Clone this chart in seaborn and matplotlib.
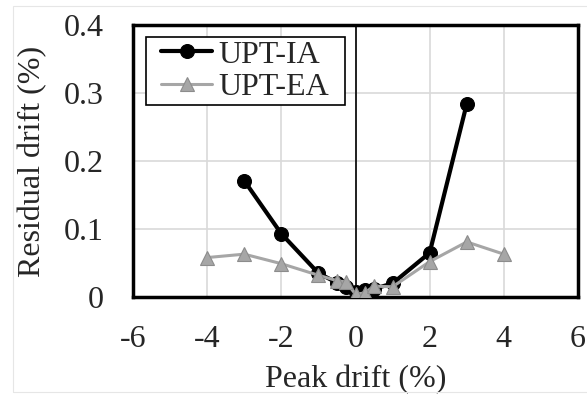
import numpy as np
import pandas as pd
import matplotlib
matplotlib.use("Agg")
import matplotlib.pyplot as plt
import seaborn as sns

# Data
ia_x = [-3, -2, -1, -0.5, -0.25, 0, 0.25, 0.5, 1, 2, 3]
ia_y = [0.171, 0.093, 0.035, 0.021, 0.015, 0.008, 0.010, 0.012, 0.020, 0.065, 0.284]
ea_x = [-4, -3, -2, -1, -0.5, -0.25, 0, 0.25, 0.5, 1, 2, 3, 4]
ea_y = [0.058, 0.063, 0.049, 0.032, 0.024, 0.022, 0.004, 0.006, 0.016, 0.015, 0.052, 0.081, 0.063]
series_names = ["UPT-IA", "UPT-EA"]
x_ticks = [-6, -4, -2, 0, 2, 4, 6]
y_ticks = [0, 0.1, 0.2, 0.3, 0.4]
y_tick_labels = ["0", "0.1", "0.2", "0.3", "0.4"]

df = pd.DataFrame({
    "x": ia_x + ea_x,
    "y": ia_y + ea_y,
    "series": [series_names[0]] * len(ia_x) + [series_names[1]] * len(ea_x),
})

sns.set_theme(style="white")
plt.rcParams["font.family"] = ["Liberation Serif", "DejaVu Serif"]

FS = 23
LFS = 23

W, H = 587, 396
fig = plt.figure(figsize=(W / 100, H / 100), dpi=100)
ax = fig.add_axes([133 / W, 1 - 297 / H, (578 - 133) / W, (297 - 25) / H])

# outer faint border
fig.patches.append(plt.Rectangle((13 / W, 4 / H), 1, 1 - 10 / H,
                                 transform=fig.transFigure, fill=False,
                                 edgecolor="#e6e6e6", linewidth=0.8))

ax.grid(True, color="#d9d9d9", linewidth=1.2, zorder=0)
ax.set_axisbelow(True)
ax.axvline(0, color="black", linewidth=1.2, zorder=1)

palette = {"UPT-IA": "black", "UPT-EA": "#a6a6a6"}
markers = {"UPT-IA": "o", "UPT-EA": "^"}
for name in series_names:
    sub = df[df["series"] == name]
    sns.lineplot(data=sub, x="x", y="y", ax=ax, color=palette[name],
                 marker=markers[name], markersize=10,
                 markeredgecolor="black" if name == "UPT-IA" else "#8c8c8c",
                 markeredgewidth=0.8,
                 linewidth=3 if name == "UPT-IA" else 2.2,
                 label=name, sort=False, zorder=3)

ax.set_xlim(-6, 6)
ax.set_ylim(0, 0.4)
ax.set_xticks(x_ticks)
ax.set_xticklabels([str(t) for t in x_ticks])
ax.set_yticks(y_ticks)
ax.set_yticklabels(y_tick_labels)
ax.tick_params(axis="both", labelsize=FS, length=0)
ax.tick_params(axis="x", pad=20)
ax.tick_params(axis="y", pad=21)

for s in ax.spines.values():
    s.set_visible(True)
    s.set_color("black")
    s.set_linewidth(2.5)

ax.set_xlabel("Peak drift (%)", fontsize=FS, labelpad=8)
ax.set_ylabel("Residual drift (%)", fontsize=FS, labelpad=12)

leg = ax.legend(loc="upper left", fontsize=LFS, frameon=False,
                handlelength=1.6, handletextpad=0.2, borderpad=0.1,
                labelspacing=0.1, borderaxespad=0,
                bbox_to_anchor=((158 - 133) / 445, 1 - (37 - 25) / 272))

# legend frame with wider horizontal padding
fig.canvas.draw()
bb = leg.get_window_extent()
padx = 12
x0 = (bb.x0 - padx) / W
x1 = (bb.x1 + padx) / W
frame = plt.Rectangle((x0, bb.y0 / H), x1 - x0, (bb.y1 - bb.y0) / H,
                      transform=fig.transFigure, fill=True,
                      facecolor="white", edgecolor="black", linewidth=1.2)
frame.set_zorder(10)
fig.patches.append(frame)
leg.remove()
leg2 = fig.legend(*ax.get_legend_handles_labels(), loc="upper left", fontsize=LFS,
                  frameon=False, handlelength=1.6, handletextpad=0.2,
                  borderpad=0.1, labelspacing=0.1, borderaxespad=0,
                  bbox_to_anchor=(bb.x0 / W, bb.y1 / H))
leg2.set_zorder(12)

fig.savefig("out.png", dpi=100)
